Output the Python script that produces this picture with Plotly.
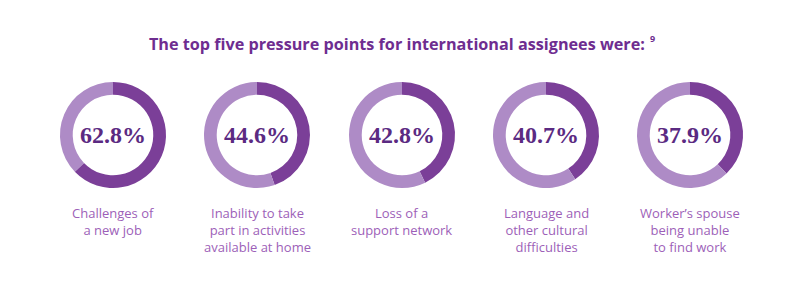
import plotly.graph_objects as go

values = [62.8, 44.6, 42.8, 40.7, 37.9]
labels = [
    "Challenges of<br>a new job",
    "Inability to take<br>part in activities<br>available at home",
    "Loss of a<br>support network",
    "Language and<br>other cultural<br>difficulties",
    "Worker\u2019s spouse<br>being unable<br>to find work",
]
title = "The top five pressure points for international assignees were:"
footnote = "9"

W, H = 800, 305
centers_x = [113, 257, 402, 546, 690]
cy = 135
R = 53

DARK = "#7b3f98"
LIGHT = "#ae8bc6"

fig = go.Figure()
annotations = []
for i, v in enumerate(values):
    cx = centers_x[i]
    fig.add_trace(go.Pie(
        values=[v, 100 - v],
        hole=0.76,
        sort=False,
        direction="clockwise",
        rotation=0,
        marker=dict(colors=[DARK, LIGHT], line=dict(width=0)),
        textinfo="none",
        hoverinfo="skip",
        showlegend=False,
        domain=dict(x=[(cx - R) / W, (cx + R) / W], y=[1 - (cy + R) / H, 1 - (cy - R) / H]),
    ))
    annotations.append(dict(
        x=cx / W, y=1 - cy / H, xref="paper", yref="paper",
        text=f"<b>{v:.1f}%</b>", showarrow=False,
        font=dict(family="Liberation Serif", size=24, color="#5b2a82"),
        xanchor="center", yanchor="middle",
    ))
    annotations.append(dict(
        x=cx / W, y=1 - 202 / H, xref="paper", yref="paper",
        text=labels[i], showarrow=False, align="center",
        font=dict(family="Open Sans", size=13, color="#9d5fb8"),
        xanchor="center", yanchor="top",
    ))

annotations.append(dict(
    x=647 / W, y=1 - 44 / H, xref="paper", yref="paper",
    text=f"<b>{title}</b>",
    showarrow=False,
    font=dict(family="Open Sans", size=16.2, color="#6e2d90"),
    xanchor="right", yanchor="middle",
))
annotations.append(dict(
    x=648 / W, y=1 - 39 / H, xref="paper", yref="paper",
    text=f"<b>{footnote}</b>",
    showarrow=False,
    font=dict(family="Open Sans", size=9, color="#6e2d90"),
    xanchor="left", yanchor="middle",
))

fig.update_layout(
    width=W, height=H,
    margin=dict(l=0, r=0, t=0, b=0),
    paper_bgcolor="white", plot_bgcolor="white",
    annotations=annotations,
)
fig.write_html("out.html")
